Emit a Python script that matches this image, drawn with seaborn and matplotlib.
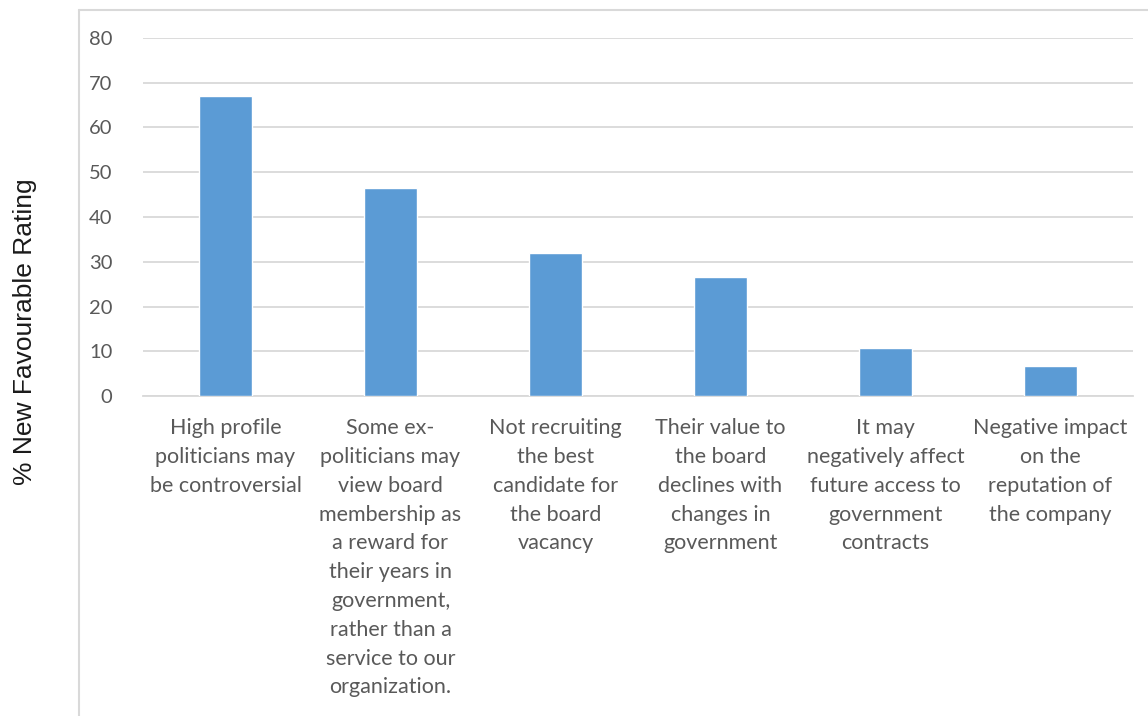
import matplotlib
matplotlib.use('Agg')
import matplotlib.pyplot as plt
import seaborn as sns
from matplotlib.lines import Line2D

categories = [
    'High profile\npoliticians may\nbe controversial',
    'Some ex-\npoliticians may\nview board\nmembership as\na reward for\ntheir years in\ngovernment,\nrather than a\nservice to our\norganization.',
    'Not recruiting\nthe best\ncandidate for\nthe board\nvacancy',
    'Their value to\nthe board\ndeclines with\nchanges in\ngovernment',
    'It may\nnegatively affect\nfuture access to\ngovernment\ncontracts',
    'Negative impact\non the\nreputation of\nthe company',
]
values = [67, 46.5, 32, 26.6, 10.7, 6.7]
y_ticks = [0, 10, 20, 30, 40, 50, 60, 70, 80]

sns.set_style('white')
plt.rcParams['font.family'] = ['Lato', 'DejaVu Sans']

text_color = '#595959'
grid_color = '#D9D9D9'

fig = plt.figure(figsize=(11.48, 7.16), dpi=100)
ax = fig.add_axes([143 / 1148, 1 - 396 / 716, 990 / 1148, 358 / 716])

sns.barplot(x=categories, y=values, color='#5B9BD5', width=0.32, saturation=1, ax=ax, zorder=3)

ax.set_ylim(0, 80)
ax.set_yticks(y_ticks)
ax.set_xlim(-0.5, len(categories) - 0.5)
ax.yaxis.grid(True, color=grid_color, linewidth=1.3, zorder=0)
for s in ['top', 'right', 'left']:
    ax.spines[s].set_visible(False)
ax.spines['bottom'].set_color(grid_color)
ax.spines['bottom'].set_linewidth(1.3)
ax.tick_params(axis='both', length=0, colors=text_color, labelsize=14.5)
ax.tick_params(axis='y', pad=22)
ax.set_xticks(range(len(categories)))
ax.set_xticklabels([])
ax.set_xlabel('')
ax.set_ylabel('')

# wrapped category labels with wider line spacing
for i, lab in enumerate(categories):
    ax.annotate(lab, xy=(i, 0), xycoords=('data', 'axes fraction'),
                xytext=(0, -16), textcoords='offset points',
                ha='center', va='top', multialignment='center',
                fontsize=15.5, color=text_color, linespacing=1.55)

fig.text(25 / 1148, 1 - 332 / 716, '% New Favourable Rating', rotation=90,
         ha='center', va='center', fontsize=19, color='#1a1a1a',
         family=['Liberation Sans', 'DejaVu Sans'])

# chart area border
fig.add_artist(Line2D([79 / 1148, 79 / 1148], [0, 1 - 10 / 716], color=grid_color, linewidth=1.5))
fig.add_artist(Line2D([79 / 1148, 1], [1 - 10 / 716, 1 - 10 / 716], color=grid_color, linewidth=1.5))

fig.savefig('out.png', dpi=100)
